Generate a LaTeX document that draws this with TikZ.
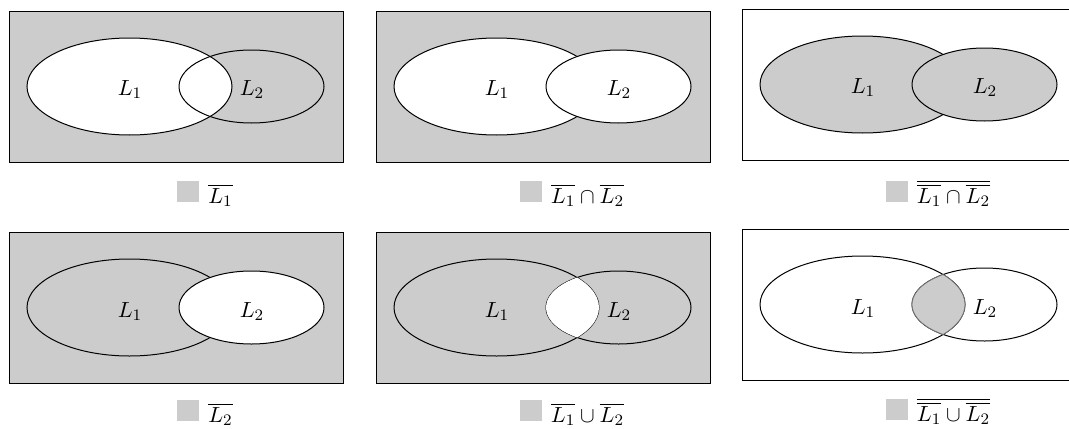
\documentclass[tikz,border=0pt]{standalone}
\definecolor{lg}{HTML}{CCCCCC}
\tikzset{
  frame/.style={draw=black, line width=0.5pt},
  setline/.style={draw=black, line width=0.5pt},
  lbl/.style={anchor=base, inner sep=0pt, font=\fontsize{10.95}{13}\selectfont},
  leg/.style={anchor=base, inner sep=0pt, font=\fontsize{10.95}{13}\selectfont},
  lensline/.style={draw=black!55, line width=0.4pt},
}
\newcommand{\legsq}{\textcolor{lg}{\rule[0.6pt]{11pt}{10.5pt}}\hspace{4.5pt}}
\begin{document}
\begin{tikzpicture}[x=0.5pt,y=-0.5pt]
\useasboundingbox (0,0) rectangle (1069,428);
\clip (0,0) rectangle (1069,428);
% ---------- Panel 1: complement of L1
\begin{scope}[shift={(9,11)}]
  \fill[lg] (0,0) rectangle (334,151);
  \fill[white] (120.5,75.5) ellipse [x radius=102.5, y radius=48.5];
  \draw[setline] (120.5,75.5) ellipse [x radius=102.5, y radius=48.5];
  \draw[setline] (242.5,75.5) ellipse [x radius=72.5, y radius=36.5];
  \draw[frame] (0,0) rectangle (334,151);
  \node[lbl] (p1a) at (121,84.5) {$L_1$};
  \node[lbl] (p1b) at (243,84.5) {$L_2$};
  \node[leg] (p1c) at (196,192) {\legsq$\overline{L_1}$};
\end{scope}
% ---------- Panel 2
\begin{scope}[shift={(376,11)}]
  \fill[lg] (0,0) rectangle (334,151);
  \draw[setline, fill=white] (120.5,75.5) ellipse [x radius=102.5, y radius=48.5];
  \draw[setline, fill=white] (242.5,75.5) ellipse [x radius=72.5, y radius=36.5];
  \draw[frame] (0,0) rectangle (334,151);
  \node[lbl] (p2a) at (121,84.5) {$L_1$};
  \node[lbl] (p2b) at (243,84.5) {$L_2$};
  \node[leg] (p2c) at (196,192) {\legsq$\overline{L_1}\cap\overline{L_2}$};
\end{scope}
% ---------- Panel 3
\begin{scope}[shift={(742,9)}]
  \draw[frame, fill=white] (0,0) rectangle (334,151);
  \draw[setline, fill=lg] (120.5,75.5) ellipse [x radius=102.5, y radius=48.5];
  \draw[setline, fill=lg] (242.5,75.5) ellipse [x radius=72.5, y radius=36.5];
  \node[lbl] (p3a) at (121,84.5) {$L_1$};
  \node[lbl] (p3b) at (243,84.5) {$L_2$};
  \node[leg] (p3c) at (196,194) {\legsq$\overline{\overline{L_1}\cap\overline{L_2}}$};
\end{scope}
% ---------- Panel 4
\begin{scope}[shift={(9,232)}]
  \fill[lg] (0,0) rectangle (334,151);
  \draw[setline] (120.5,75.5) ellipse [x radius=102.5, y radius=48.5];
  \draw[setline, fill=white] (242.5,75.5) ellipse [x radius=72.5, y radius=36.5];
  \draw[frame] (0,0) rectangle (334,151);
  \node[lbl] (p4a) at (121,85) {$L_1$};
  \node[lbl] (p4b) at (243,85) {$L_2$};
  \node[leg] (p4c) at (196,190) {\legsq$\overline{L_2}$};
\end{scope}
% ---------- Panel 5
\begin{scope}[shift={(376,232)}]
  \fill[lg] (0,0) rectangle (334,151);
  \draw[setline] (120.5,75.5) ellipse [x radius=102.5, y radius=48.5];
  \draw[setline] (242.5,75.5) ellipse [x radius=72.5, y radius=36.5];
  \begin{scope}
    \clip (120.5,75.5) ellipse [x radius=102.5, y radius=48.5];
    \fill[white] (242.5,75.5) ellipse [x radius=72.5, y radius=36.5];
  \end{scope}
  \draw[frame] (0,0) rectangle (334,151);
  \node[lbl] (p5a) at (121,85) {$L_1$};
  \node[lbl] (p5b) at (243,85) {$L_2$};
  \node[leg] (p5c) at (196,190) {\legsq$\overline{L_1}\cup\overline{L_2}$};
\end{scope}
% ---------- Panel 6
\begin{scope}[shift={(742,229)}]
  \draw[frame, fill=white] (0,0) rectangle (334,151);
  \draw[setline] (120.5,75.5) ellipse [x radius=102.5, y radius=48.5];
  \draw[setline] (242.5,75.5) ellipse [x radius=72.5, y radius=36.5];
  \begin{scope}
    \clip (120.5,75.5) ellipse [x radius=102.5, y radius=48.5];
    \fill[lg] (242.5,75.5) ellipse [x radius=72.5, y radius=36.5];
    \draw[lensline] (242.5,75.5) ellipse [x radius=72.5, y radius=36.5];
  \end{scope}
  \begin{scope}
    \clip (242.5,75.5) ellipse [x radius=72.5, y radius=36.5];
    \draw[lensline] (120.5,75.5) ellipse [x radius=102.5, y radius=48.5];
  \end{scope}
  \node[lbl] (p6a) at (121,85) {$L_1$};
  \node[lbl] (p6b) at (243,85) {$L_2$};
  \node[leg] (p6c) at (196,192) {\legsq$\overline{\overline{L_1}\cup\overline{L_2}}$};
\end{scope}
\end{tikzpicture}
\end{document}
